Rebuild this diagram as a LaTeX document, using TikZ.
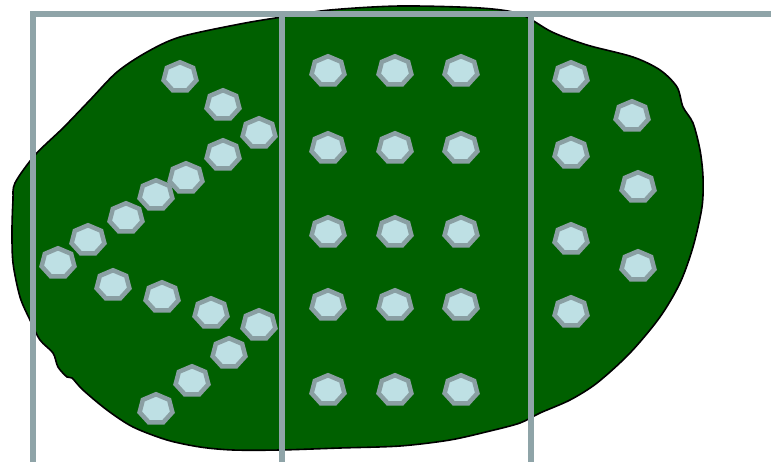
\documentclass[tikz,border=0pt]{standalone}
\usepackage{tikz}
\usetikzlibrary{shapes.geometric}
\definecolor{blobgreen}{HTML}{006000}
\definecolor{hexfill}{HTML}{BEE0E4}
\definecolor{hexline}{HTML}{8A9FA3}
\definecolor{gridline}{HTML}{8FA4A8}
\tikzset{
  hept/.style={regular polygon, regular polygon sides=7, minimum size=29.5pt,
    inner sep=0pt, xscale=1.14, transform shape, fill=hexfill, draw=hexline, line width=4.5pt},
  grid line/.style={draw=gridline, line width=5.5pt}
}
\begin{document}
\begin{tikzpicture}[x=1pt,y=-1pt]
\useasboundingbox (0,0) rectangle (771,462);
% blob
\draw[fill=blobgreen, draw=black, line width=1.6pt] plot[smooth cycle, tension=0.5] coordinates {
(15,183) (35,155) (63,128) (90,100) (117,72) (147,52) (180,37) (240,24) (282,17)
(330,10) (400,6) (480,8) (520,14) (552,32) (587,45) (633,57) (660,70) (677,87)
(683,107) (693,123) (700,150) (703,177) (702,207) (693,247) (680,283) (660,317)
(630,353) (597,383) (570,400) (540,413) (520,423) (490,431) (450,440) (400,446)
(340,448) (280,450) (233,450) (200,447) (167,440) (133,427) (107,410) (83,390)
(72,378) (67,377) (58,367) (53,353) (40,340) (30,320) (20,297) (13,263) (12,230) (13,200)};
% grid lines
\coordinate (c1) at (33,462);
\coordinate (c2) at (33,14);
\coordinate (c3) at (771,14);
\coordinate (m1) at (282,14);
\coordinate (m2) at (282,462);
\coordinate (r1) at (531,14);
\coordinate (r2) at (531,462);
\draw[grid line, line join=miter] (c1) -- (c2) -- (c3);
\draw[grid line] (m1) -- (m2);
\draw[grid line] (r1) -- (r2);
% left region heptagons
\foreach \n/\x/\y in {l1/180/77, l2/223/105, l3/259/133, l4/223/155, l5/186/178,
  l6/156/195, l7/126/218, l8/88/240, l9/58/263, l10/113/285, l11/162/297,
  l12/211/313, l13/259/325, l14/229/353, l15/192/381, l16/156/409}
  \node[hept] (\n) at (\x,\y) {};
% middle region heptagons
\foreach \c/\x in {a/328, b/395, c/461}
  \foreach \r/\y in {1/71, 2/148, 3/232, 4/305, 5/390}
    \node[hept] (m\c\r) at (\x,\y) {};
% right region heptagons
\foreach \n/\x/\y in {r1/571/77, r2/632/116, r3/571/153, r4/638/187,
  r5/571/239, r6/638/266, r7/571/312}
  \node[hept] (h\n) at (\x,\y) {};
\end{tikzpicture}
\end{document}
